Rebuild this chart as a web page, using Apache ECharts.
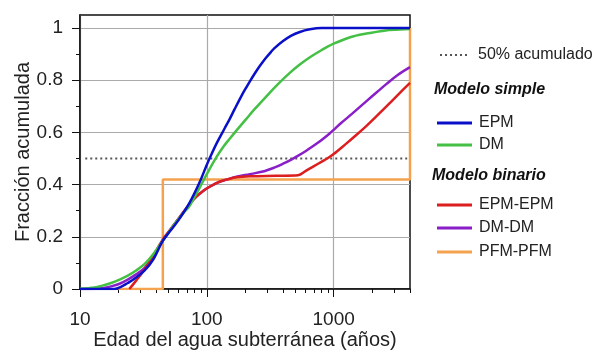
<!DOCTYPE html>
<html>
<head>
<meta charset="utf-8">
<script src="https://cdn.jsdelivr.net/npm/echarts@6/dist/echarts.min.js"></script>
<style>html,body{margin:0;padding:0;background:#fff}#c{width:605px;height:352px}</style>
</head>
<body>
<div id="c"></div>
<script>
// ---- data: [age (years), cumulative fraction] ----
const xMajorTicks = [10, 100, 1000];
const xMinorTicks = [20,30,40,50,60,70,80,90,200,300,400,500,600,700,800,900,2000,3000,4000];
const yMajorTicks = [0, 0.2, 0.4, 0.6, 0.8, 1];
const yMinorTicks = [0.1, 0.3, 0.5, 0.7, 0.9];

const halfLine = [[11, 0.5], [3800, 0.5]];

const epm = [[10,0],[18.7,0],[21,0.008],[23.8,0.023],[27,0.04],[32.2,0.07],[38,0.115],[45,0.185],[51,0.22],[60,0.265],[73,0.33],[87,0.405],[100,0.476],[105,0.5],[120,0.56],[138,0.615],[151,0.65],[166,0.69],[190,0.745],[205,0.773],[218,0.795],[236,0.822],[255,0.847],[275,0.869],[295,0.888],[320,0.908],[340,0.922],[399,0.95],[460,0.97],[541,0.985],[650,0.995],[800,1],[4000,1]];

const dm = [[10,0.001],[13,0.006],[15,0.013],[17.6,0.023],[20.5,0.036],[23.8,0.051],[27.5,0.07],[32.2,0.095],[38,0.135],[45,0.185],[55,0.245],[65,0.29],[73,0.318],[87,0.385],[100,0.44],[119,0.505],[135,0.545],[151,0.575],[171,0.607],[205,0.652],[239,0.69],[300,0.742],[364,0.785],[451,0.828],[541,0.86],[650,0.888],[800,0.915],[1000,0.94],[1350,0.965],[1816,0.979],[2500,0.99],[3322,0.994],[4000,0.996]];

const epmEpm = [[24.5,0],[28,0.035],[32.2,0.075],[38,0.13],[45,0.19],[52,0.23],[60,0.27],[73,0.325],[83,0.355],[93,0.375],[102,0.388],[115,0.402],[126,0.411],[145,0.42],[171,0.428],[220,0.432],[350,0.434],[524,0.436],[600,0.452],[700,0.471],[800,0.487],[890,0.5],[1000,0.517],[1250,0.556],[1500,0.589],[1816,0.625],[2200,0.664],[2767,0.712],[3300,0.75],[4000,0.79]];

const dmDm = [[10,0],[13,0.001],[15,0.003],[17.6,0.01],[20.5,0.02],[23.8,0.036],[27.5,0.055],[32.2,0.08],[38,0.13],[45,0.185],[52,0.23],[60,0.27],[73,0.325],[83,0.355],[93,0.375],[102,0.388],[115,0.402],[126,0.411],[145,0.42],[171,0.43],[218,0.44],[277,0.45],[340,0.465],[399,0.48],[460,0.495],[509,0.507],[600,0.528],[750,0.56],[931,0.596],[1000,0.61],[1151,0.637],[1400,0.672],[1816,0.72],[2200,0.755],[2600,0.785],[3200,0.82],[4000,0.85]];

const pfmPfm = [[20,0],[45,0],[45,0.42],[4000,0.42],[4000,1]];

const FONT = '"Liberation Sans", Arial, sans-serif';
const TXT = '#222';
const DOTS = 'path://M0 0h2v2H0z M5 0h2v2H5z M10 0h2v2h-2z M15 0h2v2h-2z M20 0h2v2h-2z M25 0h2v2h-2z';

const chart = echarts.init(document.getElementById('c'), null, {renderer: 'canvas'});

function leg(name, top, left, w, h, icon, pad) {
  return {
    data: [{name: name, icon: icon}], orient: 'vertical', left: left, top: top, padding: 0,
    itemWidth: w, itemHeight: h, selectedMode: false,
    textStyle: {fontFamily: FONT, fontSize: 16, color: TXT, lineHeight: 20, padding: [0,0,0,pad]}
  };
}

const smoothLine = (name, data, color) => ({
  name: name, type: 'line', data: data, symbol: 'none', showSymbol: false,
  smooth: 0.35, color: color,
  itemStyle: {color: color}, lineStyle: {color: color, width: 2.5}
});

const option = {
  animation: false,
  backgroundColor: '#fff',
  grid: {left: 80, right: 195, top: 15, bottom: 63, outerBoundsMode: 'none', containLabel: false,
         show: true, borderColor: '#111', borderWidth: 1.5, backgroundColor: 'transparent'},
  xAxis: [{
    type: 'log', logBase: 10, min: 10, max: 4000,
    name: 'Edad del agua subterránea (años)', nameLocation: 'middle', nameGap: 41, nameMoveOverlap: false,
    nameTextStyle: {fontFamily: FONT, fontSize: 20, color: TXT},
    axisLine: {show: true, lineStyle: {color: '#111', width: 1.5}},
    axisTick: {show: true, inside: false, length: 8, customValues: xMajorTicks, lineStyle: {color: '#111', width: 1}},
    axisLabel: {customValues: xMajorTicks, formatter: v => String(v), fontFamily: FONT, fontSize: 19, color: TXT, margin: 21},
    splitLine: {show: true, lineStyle: {color: '#aaa', width: 1.2}}
  }, {
    type: 'log', logBase: 10, min: 10, max: 4000, position: 'bottom',
    axisLine: {show: false},
    axisTick: {show: true, length: 4, customValues: xMinorTicks, lineStyle: {color: '#111', width: 1}},
    axisLabel: {show: false},
    splitLine: {show: false}
  }],
  yAxis: [{
    type: 'value', min: 0, max: 1.05, interval: 0.2,
    name: 'Fracción acumulada', nameLocation: 'middle', nameGap: 47, nameMoveOverlap: false,
    nameTextStyle: {fontFamily: FONT, fontSize: 20, color: TXT},
    axisLine: {show: true, lineStyle: {color: '#111', width: 1.5}},
    axisTick: {show: true, length: 8, customValues: yMajorTicks, lineStyle: {color: '#111', width: 1}},
    axisLabel: {customValues: yMajorTicks, fontFamily: FONT, fontSize: 19, color: TXT, margin: 17},
    splitLine: {show: true, lineStyle: {color: '#aaa', width: 1.2}}
  }, {
    type: 'value', min: 0, max: 1.05, position: 'left', offset: 0,
    axisLine: {show: false},
    axisTick: {show: true, length: 4, customValues: yMinorTicks, lineStyle: {color: '#111', width: 1}},
    axisLabel: {show: false},
    splitLine: {show: false}
  }],
  legend: [
    leg('50% acumulado', 45, 440, 27, 2, DOTS, 6),
    leg('EPM', 113, 437, 35, 3, 'rect', 2),
    leg('DM', 135, 437, 35, 3, 'rect', 2),
    leg('EPM-EPM', 195, 437, 35, 3, 'rect', 2),
    leg('DM-DM', 218, 437, 35, 3, 'rect', 2),
    leg('PFM-PFM', 242, 437, 35, 3, 'rect', 2)
  ],
  graphic: [
    {type: 'text', left: 434, top: 82, style: {text: 'Modelo simple', font: 'italic bold 16px ' + FONT, fill: '#111'}},
    {type: 'text', left: 432, top: 168, style: {text: 'Modelo binario', font: 'italic bold 16px ' + FONT, fill: '#111'}}
  ],
  series: [
    {name: '50% acumulado', type: 'line', data: halfLine, symbol: 'none', color: '#555',
     itemStyle: {color: '#555'}, lineStyle: {color: '#555', width: 2, type: [2, 3]}},
    {name: 'PFM-PFM', type: 'line', data: pfmPfm, symbol: 'none', color: '#f5a24e',
     itemStyle: {color: '#f5a24e'}, lineStyle: {color: '#f5a24e', width: 2.5}},
    smoothLine('DM-DM', dmDm, '#8a1ec8'),
    smoothLine('EPM-EPM', epmEpm, '#dc1e1e'),
    smoothLine('DM', dm, '#44c044'),
    smoothLine('EPM', epm, '#0a10c8')
  ]
};
chart.setOption(option);
</script>
</body>
</html>
